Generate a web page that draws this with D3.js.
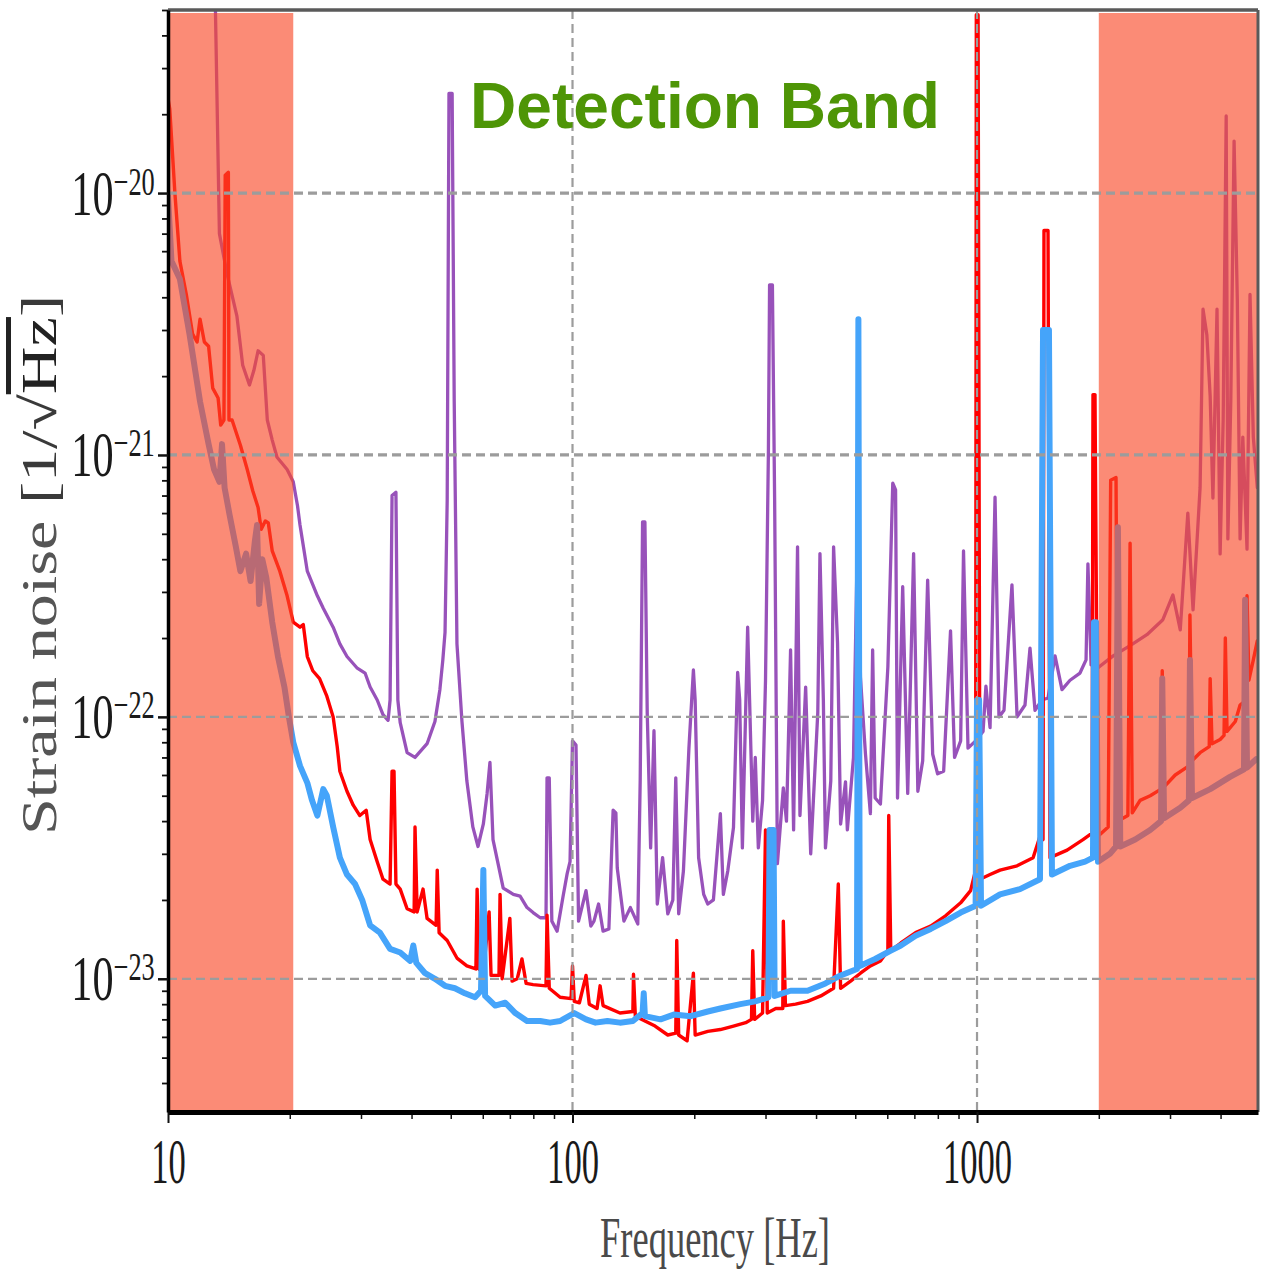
<!DOCTYPE html>
<html>
<head>
<meta charset="utf-8">
<script src="https://cdn.jsdelivr.net/npm/d3@7"></script>
<style>
  html, body { margin: 0; padding: 0; background: #ffffff; }
  svg { display: block; }
</style>
</head>
<body>
<svg id="chart" width="1268" height="1274"></svg>
<script>
// ---------------- DATA ----------------
// [frequency in Hz, strain noise in 1/sqrt(Hz)]
const purpleCurve = [
  [12.6, 9.2e-20], [13.1, 5.0e-20], [13.4, 7.0e-21], [14.0, 4.9e-21], [14.8, 3.4e-21], [15.3, 2.2e-21],
  [15.9, 1.85e-21], [16.3, 2.1e-21], [16.7, 2.5e-21], [17.2, 2.4e-21], [17.6, 1.36e-21], [18.1, 1.14e-21],
  [18.6, 9.8e-22], [19.25, 9.2e-22], [19.7, 8.8e-22], [20.4, 7.9e-22], [20.9, 6.4e-22], [21.2, 5.4e-22],
  [21.6, 4.5e-22], [22.1, 3.6e-22], [22.8, 3.2e-22], [23.4, 2.9e-22], [24.2, 2.6e-22], [25.6, 2.2e-22],
  [26.6, 1.9e-22], [27.7, 1.7e-22], [29.3, 1.54e-22], [30.7, 1.47e-22], [31.6, 1.3e-22], [32.9, 1.16e-22],
  [34.0, 1.02e-22], [35.0, 9.7e-23], [35.4, 1.16e-22], [35.8, 7.0e-22], [36.6, 7.2e-22], [37.0, 1.16e-22],
  [37.5, 9.5e-23], [39.0, 7.3e-23], [40.8, 7.0e-23], [43.7, 7.9e-23], [45.7, 9.6e-23], [47.0, 1.27e-22],
  [47.8, 1.65e-22], [48.4, 2.1e-22], [49.0, 6.7e-22], [49.5, 2.4e-20], [50.4, 2.4e-20], [51.0, 1.6e-21],
  [51.8, 1.9e-22], [53.3, 9.6e-23], [54.8, 5.7e-23], [56.7, 3.8e-23], [58.4, 3.2e-23], [60.2, 3.9e-23],
  [61.5, 5.1e-23], [62.5, 6.7e-23], [63.6, 3.4e-23], [65.3, 2.8e-23], [67.4, 2.22e-23], [71.4, 2.1e-23],
  [74.2, 2.07e-23], [77.2, 1.87e-23], [79.9, 1.79e-23], [83.2, 1.71e-23], [86.0, 1.71e-23], [86.5, 5.85e-23],
  [87.6, 5.85e-23], [88.9, 1.66e-23], [91.6, 1.52e-23], [94.8, 2.07e-23], [97.0, 2.52e-23], [98.6, 2.8e-23],
  [100, 8.1e-23], [102, 7.8e-23], [103.5, 1.66e-23], [108, 2.17e-23], [111, 1.59e-23], [113, 1.66e-23],
  [116, 1.93e-23], [119, 1.52e-23], [123, 1.55e-23], [126, 4.4e-23], [128, 4.3e-23], [129, 2.65e-23],
  [134, 1.66e-23], [139, 1.87e-23], [145, 1.62e-23], [147, 5.7e-23], [149, 5.55e-22], [151, 5.55e-22],
  [153, 1.04e-22], [156, 3.16e-23], [159, 8.85e-23], [162, 1.93e-23], [167, 2.9e-23], [172, 1.77e-23],
  [177, 2.0e-23], [180, 5.85e-23], [183, 1.77e-23], [188, 2.58e-23], [194, 7.6e-23], [199, 1.51e-22],
  [201, 1.16e-22], [205, 2.9e-23], [211, 2.1e-23], [216, 1.93e-23], [223, 2.0e-23], [232, 4.27e-23],
  [236, 2.1e-23], [242, 2.58e-23], [250, 3.78e-23], [256, 1.48e-22], [259, 1.16e-22], [263, 3.16e-23],
  [271, 2.2e-22], [274, 1.16e-22], [279, 4.0e-23], [283, 7.0e-23], [288, 3.16e-23], [295, 4.8e-23],
  [300, 1.38e-22], [305, 1.04e-21], [307, 4.46e-21], [312, 4.46e-21], [316, 6.7e-22], [321, 2.75e-23],
  [332, 5.36e-23], [338, 4.0e-23], [346, 1.8e-22], [352, 3.7e-23], [360, 4.46e-22], [365, 4.2e-23],
  [377, 1.3e-22], [388, 3.0e-23], [404, 1.04e-22], [409, 4.2e-22], [417, 1.16e-22], [422, 3.16e-23],
  [435, 5.7e-23], [442, 4.46e-22], [452, 1.92e-22], [460, 3.9e-23], [473, 5.65e-23], [478, 3.7e-23],
  [495, 7.0e-23], [507, 5.5e-22], [515, 1.42e-22], [530, 7.2e-23], [545, 4.27e-23], [552, 1.8e-22],
  [560, 4.9e-23], [577, 4.65e-23], [602, 1.55e-22], [619, 7.8e-22], [629, 7.35e-22], [636, 4.9e-23],
  [655, 3.14e-22], [674, 5.1e-23], [697, 4.2e-22], [714, 5.2e-23], [734, 6.8e-23], [755, 3.33e-22],
  [777, 7.2e-23], [799, 6.06e-23], [827, 6.2e-23], [860, 2.13e-22], [880, 7.0e-23], [911, 8.1e-23],
  [926, 4.3e-22], [950, 7.6e-23], [992, 8.1e-23], [1035, 8.8e-23], [1052, 1.31e-22], [1077, 9.1e-23],
  [1108, 6.9e-22], [1133, 1.0e-22], [1166, 1.06e-22], [1220, 3.19e-22], [1256, 1.0e-22], [1314, 1.11e-22],
  [1352, 1.83e-22], [1391, 1.06e-22], [1448, 1.16e-22], [1498, 1.18e-22], [1559, 1.71e-22], [1622, 1.27e-22],
  [1698, 1.38e-22], [1797, 1.47e-22], [1860, 1.65e-22], [1880, 3.84e-22], [1914, 1.58e-22], [1991, 1.54e-22],
  [2170, 1.71e-22], [2390, 1.87e-22], [2630, 2.06e-22], [2880, 2.35e-22], [3050, 2.92e-22], [3180, 2.15e-22],
  [3320, 6.0e-22], [3420, 2.56e-22], [3560, 7.5e-22], [3620, 3.6e-21], [3700, 2.87e-21], [3770, 1.68e-21],
  [3830, 6.85e-22], [3920, 3.6e-21], [3990, 4.19e-22], [4060, 1.36e-21], [4130, 1.97e-20], [4170, 4.78e-22],
  [4240, 1.62e-21], [4320, 1.58e-20], [4400, 3.94e-21], [4470, 4.78e-22], [4540, 1.17e-21], [4650, 4.37e-22],
  [4730, 4.1e-21], [4820, 1.17e-21], [4930, 7.5e-22]
];

const redCurve = [
  [10, 2.3e-20], [10.1, 2.1e-20], [10.4, 1.0e-20], [10.7, 5.5e-21], [11.1, 4.1e-21], [11.5, 2.9e-21],
  [11.8, 2.7e-21], [12.0, 3.3e-21], [12.3, 2.7e-21], [12.6, 2.6e-21], [12.9, 1.8e-21], [13.3, 1.65e-21],
  [13.5, 1.3e-21], [13.75, 1.36e-21], [13.85, 1.17e-20], [14.1, 1.2e-20], [14.15, 1.36e-21], [14.4, 1.36e-21],
  [15.1, 1.09e-21], [15.7, 8.8e-22], [16.2, 7.3e-22], [16.7, 6.3e-22], [17.0, 5.2e-22], [17.4, 5.6e-22],
  [17.7, 5.5e-22], [18.1, 4.3e-22], [18.9, 3.6e-22], [19.7, 2.9e-22], [20.4, 2.3e-22], [21.2, 2.2e-22],
  [21.6, 2.25e-22], [22.1, 1.7e-22], [22.8, 1.5e-22], [23.7, 1.4e-22], [24.7, 1.2e-22], [25.6, 1.0e-22],
  [26.2, 7.7e-23], [26.6, 6.2e-23], [27.7, 5.2e-23], [28.7, 4.6e-23], [29.8, 4.2e-23], [30.9, 4.4e-23],
  [31.6, 3.4e-23], [32.9, 2.8e-23], [34.0, 2.4e-23], [35.4, 2.3e-23], [35.8, 6.2e-23], [36.2, 6.2e-23],
  [36.6, 2.3e-23], [37.5, 2.2e-23], [39.0, 1.85e-23], [40.6, 1.8e-23], [40.8, 3.8e-23], [41.3, 1.8e-23],
  [42.7, 2.2e-23], [43.7, 1.7e-23], [46.0, 1.6e-23], [46.3, 2.6e-23], [46.8, 1.5e-23], [49.0, 1.4e-23],
  [51.8, 1.2e-23], [54.8, 1.12e-23], [57.7, 1.09e-23], [58.1, 2.2e-23], [58.7, 1.09e-23], [60.2, 1.05e-23],
  [62.2, 1.8e-23], [62.9, 1.03e-23], [65.8, 1.03e-23], [66.2, 2.1e-23], [67.0, 1.0e-23], [70.0, 1.7e-23],
  [70.9, 9.8e-24], [73.0, 1.0e-23], [75.0, 1.19e-23], [76.8, 9.6e-24], [79.9, 9.5e-24], [86.0, 9.4e-24],
  [86.5, 1.75e-23], [87.6, 9.2e-24], [93.2, 8.5e-24], [99.2, 8.4e-24], [100, 1.12e-23], [101, 8.2e-24],
  [104, 8.1e-24], [108, 1.03e-23], [110, 8.0e-24], [115, 7.7e-24], [117, 9.4e-24], [119, 7.9e-24],
  [131, 7.4e-24], [141, 7.5e-24], [141.5, 1.04e-23], [143, 7.2e-24], [151, 6.9e-24], [160, 6.6e-24],
  [172, 6.1e-24], [180, 6.2e-24], [181, 1.4e-23], [183, 6.1e-24], [192, 5.8e-24], [199, 1.05e-23],
  [201, 6.1e-24], [216, 6.3e-24], [232, 6.4e-24], [250, 6.6e-24], [268, 6.8e-24], [277, 7.0e-24],
  [279, 1.28e-23], [282, 7.0e-24], [295, 7.4e-24], [300, 3.7e-23], [303, 7.4e-24], [318, 7.7e-24],
  [331, 7.7e-24], [332, 1.66e-23], [336, 7.9e-24], [356, 8.0e-24], [381, 8.2e-24], [411, 8.6e-24],
  [442, 9.2e-24], [454, 2.3e-23], [460, 9.2e-24], [487, 9.8e-24], [515, 1.05e-23], [545, 1.12e-23],
  [577, 1.17e-23], [602, 1.28e-23], [605, 4.2e-23], [612, 1.28e-23], [648, 1.37e-23], [705, 1.5e-23],
  [768, 1.59e-23], [836, 1.74e-23], [911, 1.95e-23], [964, 2.17e-23], [992, 2.6e-23], [996, 4.8e-20],
  [1006, 4.8e-20], [1017, 2.4e-23], [1077, 2.5e-23], [1140, 2.6e-23], [1256, 2.7e-23], [1376, 2.9e-23],
  [1431, 3.5e-23], [1456, 3.4e-23], [1464, 7.2e-21], [1498, 7.2e-21], [1515, 2.9e-23], [1670, 3.1e-23],
  [1828, 3.4e-23], [1925, 3.6e-23], [1935, 1.7e-21], [1957, 1.7e-21], [1991, 3.5e-23], [2110, 3.8e-23],
  [2140, 8.0e-22], [2206, 8.2e-22], [2230, 4.0e-23], [2360, 4.2e-23], [2390, 4.6e-22], [2420, 4.3e-23],
  [2530, 4.8e-23], [2680, 5.0e-23], [2850, 5.3e-23], [2870, 1.5e-22], [2900, 5.4e-23], [3090, 6.0e-23],
  [3340, 6.5e-23], [3360, 2.45e-22], [3400, 6.8e-23], [3560, 7.3e-23], [3750, 7.7e-23], [3770, 1.4e-22],
  [3810, 7.9e-23], [3990, 8.2e-23], [4080, 8.5e-23], [4110, 2.0e-22], [4150, 8.8e-23], [4350, 9.6e-23],
  [4470, 1.11e-22], [4630, 1.16e-22], [4650, 2.9e-22], [4700, 1.38e-22], [4820, 1.65e-22], [4930, 1.95e-22]
];

const blueCurve = [
  [10, 9.8e-21], [10.2, 5.5e-21], [10.7, 4.7e-21], [11.3, 2.9e-21], [12.0, 1.6e-21], [12.6, 1.1e-21],
  [13.0, 8.8e-22], [13.4, 7.9e-22], [13.6, 1.1e-21], [13.8, 7.5e-22], [14.2, 5.9e-22], [14.7, 4.5e-22],
  [15.1, 3.6e-22], [15.6, 4.2e-22], [16.0, 3.3e-22], [16.4, 4.7e-22], [16.6, 5.4e-22], [16.8, 2.7e-22],
  [17.1, 4.0e-22], [17.5, 3.4e-22], [18.1, 2.3e-22], [18.7, 1.7e-22], [19.4, 1.3e-22], [19.9, 1.0e-22],
  [20.4, 8.0e-23], [21.2, 6.5e-23], [22.1, 5.6e-23], [22.7, 4.8e-23], [23.4, 4.2e-23], [24.2, 5.3e-23],
  [24.7, 5.0e-23], [25.6, 3.8e-23], [26.6, 2.9e-23], [27.7, 2.5e-23], [29.0, 2.3e-23], [30.2, 2.0e-23],
  [31.6, 1.6e-23], [33.4, 1.5e-23], [35.4, 1.3e-23], [37.5, 1.26e-23], [39.7, 1.17e-23], [40.4, 1.34e-23],
  [41.1, 1.15e-23], [43.2, 1.05e-23], [45.7, 1.0e-23], [48.4, 9.4e-24], [51.2, 9.2e-24], [54.2, 8.8e-24],
  [57.4, 8.5e-24], [59.4, 9.0e-24], [60.2, 2.6e-23], [60.8, 8.6e-24], [64.4, 7.9e-24], [68.2, 8.1e-24],
  [72.2, 7.4e-24], [77.2, 6.9e-24], [83.2, 6.9e-24], [88.0, 6.8e-24], [93.2, 6.9e-24], [101, 7.4e-24],
  [108, 7.0e-24], [114, 6.8e-24], [122, 6.9e-24], [131, 6.8e-24], [141, 6.9e-24], [149, 7.4e-24],
  [150, 8.8e-24], [151, 7.2e-24], [165, 7.0e-24], [178, 7.3e-24], [196, 7.2e-24], [216, 7.5e-24],
  [232, 7.7e-24], [260, 8.0e-24], [283, 8.2e-24], [305, 8.5e-24], [307, 3.7e-23], [314, 3.7e-23],
  [316, 8.6e-24], [346, 9.0e-24], [381, 9.0e-24], [422, 9.6e-24], [460, 1.03e-23], [505, 1.09e-23],
  [509, 3.3e-21], [513, 1.12e-23], [560, 1.19e-23], [612, 1.28e-23], [648, 1.34e-23],
  [705, 1.46e-23], [768, 1.55e-23], [836, 1.66e-23], [911, 1.79e-23], [992, 1.9e-23], [1000, 1.16e-22],
  [1012, 1.16e-22], [1023, 1.9e-23], [1140, 2.1e-23], [1277, 2.2e-23], [1431, 2.4e-23], [1456, 3.0e-21],
  [1506, 3.0e-21], [1532, 2.5e-23], [1698, 2.7e-23], [1850, 2.8e-23], [1935, 2.9e-23], [1946, 2.3e-22],
  [1969, 2.3e-22], [1991, 2.8e-23], [2130, 3.0e-23], [2206, 3.2e-23], [2230, 5.3e-22], [2260, 3.2e-23],
  [2460, 3.4e-23], [2680, 3.7e-23], [2850, 4.0e-23], [2870, 1.4e-22], [2900, 4.1e-23], [3180, 4.5e-23],
  [3340, 4.8e-23], [3360, 1.65e-22], [3400, 4.9e-23], [3770, 5.3e-23], [4220, 5.9e-23], [4570, 6.3e-23],
  [4600, 2.8e-22], [4650, 6.4e-23], [4900, 6.9e-23]
];

// frequency ranges outside the detection band (Hz)
const shadedBands = [[10, 20.4], [2000, 4950]];

const xTickValues = [10, 100, 1000];
const xTickLabels = ["10", "100", "1000"];
const yTickValues = [1e-20, 1e-21, 1e-22, 1e-23];
const yTickExponents = ["\u221220", "\u221221", "\u221222", "\u221223"];
const xGridValues = [100, 1000];

const titleText = "Detection Band";
const xAxisTitle = "Frequency [Hz]";

// ---------------- CHART ----------------
const L = 168, R = 1258, T = 10, B = 1112;
const svg = d3.select("#chart");
svg.append("rect").attr("width", 1268).attr("height", 1274).attr("fill", "#ffffff");

const x = d3.scaleLog().domain([10, 4950]).range([L, R]);
const y = d3.scaleLog().domain([3.1e-24, 5e-20]).range([B, T]);

svg.append("defs").append("clipPath").attr("id", "plotClip")
  .append("rect").attr("x", L).attr("y", T).attr("width", R - L).attr("height", B - T);

// curves
const line = d3.line().x(d => x(d[0])).y(d => y(d[1]));
const curves = svg.append("g").attr("clip-path", "url(#plotClip)");
const series = [
  { data: purpleCurve, color: "#9852BA", width: 3.3 },
  { data: redCurve, color: "#ff0000", width: 3.4 },
  { data: blueCurve, color: "#45a4fa", width: 6 }
];
curves.selectAll("path.curve").data(series).join("path")
  .attr("class", "curve")
  .attr("d", d => line(d.data))
  .attr("fill", "none")
  .attr("stroke", d => d.color)
  .attr("stroke-width", d => d.width)
  .attr("stroke-linejoin", "round")
  .attr("stroke-linecap", "round");

// shaded (out of band) regions, drawn over the curves
svg.append("g").selectAll("rect").data(shadedBands).join("rect")
  .attr("x", d => x(d[0]))
  .attr("width", d => x(d[1]) - x(d[0]))
  .attr("y", T + 3)
  .attr("height", B - T - 5)
  .attr("fill", "#f84a28")
  .attr("fill-opacity", 0.64);

// grid
const grid = svg.append("g");
grid.selectAll("line.hg").data(yTickValues).join("line")
  .attr("class", "hg")
  .attr("x1", L).attr("x2", R)
  .attr("y1", d => y(d)).attr("y2", d => y(d))
  .attr("stroke", "#9c9c9c")
  .attr("stroke-width", (d, i) => i < 2 ? 3.2 : 2.2)
  .attr("stroke-dasharray", "9,5");
grid.selectAll("line.vg").data(xGridValues).join("line")
  .attr("class", "vg")
  .attr("y1", T).attr("y2", B)
  .attr("x1", d => x(d)).attr("x2", d => x(d))
  .attr("stroke", "#9c9c9c")
  .attr("stroke-width", 2.2)
  .attr("stroke-dasharray", "9,5");

// frame (top and right)
svg.append("line").attr("x1", L).attr("x2", R).attr("y1", T).attr("y2", T)
  .attr("stroke", "#5a5a5a").attr("stroke-width", 3.5);
svg.append("line").attr("x1", R).attr("x2", R).attr("y1", T).attr("y2", B)
  .attr("stroke", "#5a5a5a").attr("stroke-width", 3);

// minor tick positions
const xMinor = [];
[10, 100, 1000].forEach(d => { for (let m = 2; m < 10; m++) if (d * m <= 4950) xMinor.push(d * m); });
const yMinor = [];
[1e-24, 1e-23, 1e-22, 1e-21, 1e-20].forEach(d => { for (let m = 2; m < 10; m++) { const v = d * m; if (v >= 3.1e-24 && v <= 5e-20) yMinor.push(v); } });

// bottom axis
const gxMinor = svg.append("g").attr("transform", `translate(0,${B})`)
  .call(d3.axisBottom(x).tickValues(xMinor).tickSize(7).tickFormat(""));
gxMinor.select(".domain").remove();
gxMinor.selectAll(".tick line").attr("stroke", "#111").attr("stroke-width", 1.5);

const gx = svg.append("g").attr("transform", `translate(0,${B})`)
  .call(d3.axisBottom(x).tickValues(xTickValues).tickSize(11).tickSizeOuter(0)
    .tickFormat((d, i) => xTickLabels[i]));
gx.select(".domain").attr("stroke", "#000").attr("stroke-width", 5);
gx.selectAll(".tick line").attr("stroke", "#111").attr("stroke-width", 2);
gx.selectAll(".tick text")
  .attr("y", 71).attr("dy", 0)
  .attr("font-family", "'Liberation Serif', 'DejaVu Serif', serif")
  .attr("font-size", 64)
  .attr("fill", "#1a1a1a")
  .attr("transform", "scale(0.54,1)");

// left axis
const gyMinor = svg.append("g").attr("transform", `translate(${L},0)`)
  .call(d3.axisLeft(y).tickValues(yMinor).tickSize(6).tickFormat(""));
gyMinor.select(".domain").remove();
gyMinor.selectAll(".tick line").attr("stroke", "#111").attr("stroke-width", 1.8);

const gy = svg.append("g").attr("transform", `translate(${L},0)`)
  .call(d3.axisLeft(y).tickValues(yTickValues).tickSize(10).tickSizeOuter(0).tickFormat(""));
gy.select(".domain").attr("stroke", "#000").attr("stroke-width", 3.5);
gy.selectAll(".tick line").attr("stroke", "#111").attr("stroke-width", 2.5);
gy.selectAll(".tick").each(function (d, i) {
  const t = d3.select(this).append("text")
    .attr("x", -20).attr("y", 21)
    .attr("text-anchor", "end")
    .attr("font-family", "'Liberation Serif', 'DejaVu Serif', serif")
    .attr("fill", "#1a1a1a")
    .attr("transform", "scale(0.66,1)");
  t.append("tspan").attr("font-size", 64).text("10");
  t.append("tspan").attr("font-size", 40).attr("dy", -20).text(yTickExponents[i]);
});

// title inside plot
svg.append("text")
  .attr("x", 470).attr("y", 128)
  .attr("font-family", "'Liberation Sans', Arial, Helvetica, sans-serif")
  .attr("font-weight", "bold")
  .attr("font-size", 64)
  .attr("fill", "#4e9506")
  .attr("textLength", 470)
  .attr("lengthAdjust", "spacingAndGlyphs")
  .text(titleText);

// axis titles
svg.append("text")
  .attr("x", 600).attr("y", 1257)
  .attr("font-family", "'Liberation Serif', 'DejaVu Serif', serif")
  .attr("font-size", 58)
  .attr("fill", "#4a4a4a")
  .attr("textLength", 230)
  .attr("lengthAdjust", "spacingAndGlyphs")
  .text(xAxisTitle);

const yt = svg.append("text")
  .attr("transform", "translate(56,835) rotate(-90)")
  .attr("x", 0).attr("y", 0)
  .attr("font-family", "'Liberation Serif', 'DejaVu Serif', serif")
  .attr("font-size", 50)
  .attr("fill", "#555")
  .attr("textLength", 540)
  .attr("lengthAdjust", "spacingAndGlyphs");
yt.append("tspan").text("Strain noise ");
yt.append("tspan").attr("fill", "#3a3a3a").text("[1/\u221A");
yt.append("tspan").attr("fill", "#222").style("text-decoration", "overline").text("Hz");
yt.append("tspan").attr("fill", "#3a3a3a").text("]");
</script>
</body>
</html>
